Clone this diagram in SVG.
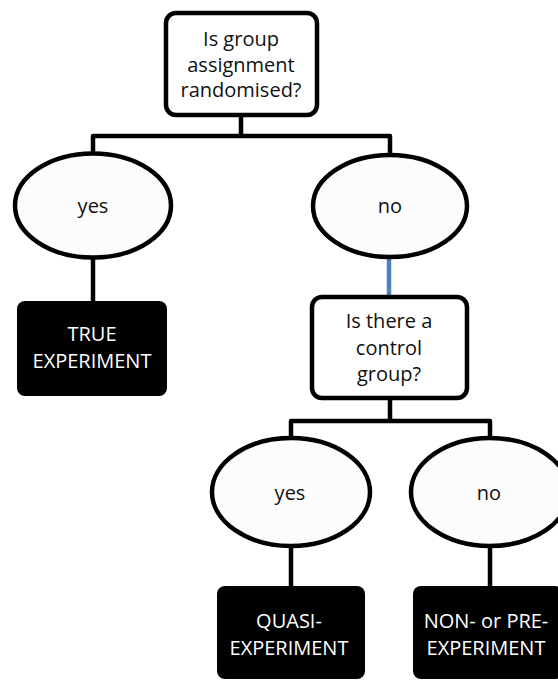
<svg xmlns="http://www.w3.org/2000/svg" width="558" height="680" viewBox="0 0 558 680">
<style>
.q{fill:#ffffff;stroke:#000;stroke-width:4.5}
.e{fill:#fcfcfc;stroke:#000;stroke-width:4.5}
.r{fill:#000;stroke:none}
.c{fill:none;stroke:#000;stroke-width:4.5;stroke-linejoin:round}
.b{fill:none;stroke:#4f81bd;stroke-width:4.5}
.t{font-family:"Open Sans","Liberation Sans",sans-serif;font-size:20px;text-anchor:middle;fill:#111}
.w{font-family:"Open Sans","Liberation Sans",sans-serif;font-size:20px;text-anchor:middle;fill:#fff}
</style>
<rect width="558" height="680" fill="#fff"/>
<g id="connectors">
<path class="c" d="M241 115 V136 M93 153 V136 H390 V155"/>
<path class="c" d="M93 258 V301"/>
<path class="b" d="M389 257 V297"/>
<path class="c" d="M390 398 V421 M291 438 V421 H490 V438"/>
<path class="c" d="M291 546 V586 M490 546 V586"/>
</g>
<g id="q1">
<rect class="q" x="166" y="13" width="151" height="102" rx="10"/>
<text class="t" x="241" y="46">Is group</text>
<text class="t" x="241" y="72">assignment</text>
<text class="t" x="241" y="97">randomised?</text>
</g>
<g id="yes1">
<ellipse class="e" cx="93" cy="205.5" rx="78" ry="52"/>
<text class="t" x="93" y="213">yes</text>
</g>
<g id="no1">
<ellipse class="e" cx="390" cy="206" rx="77" ry="51"/>
<text class="t" x="390" y="213">no</text>
</g>
<g id="true">
<rect class="r" x="17" y="301" width="150" height="95" rx="8"/>
<text class="w" x="92" y="341">TRUE</text>
<text class="w" x="92" y="368">EXPERIMENT</text>
</g>
<g id="q2">
<rect class="q" x="312" y="297" width="155" height="101" rx="10"/>
<text class="t" x="389" y="328">Is there a</text>
<text class="t" x="389" y="355">control</text>
<text class="t" x="389" y="381">group?</text>
</g>
<g id="yes2">
<ellipse class="e" cx="291" cy="492" rx="79" ry="54"/>
<text class="t" x="290" y="500">yes</text>
</g>
<g id="no2">
<ellipse class="e" cx="490" cy="492" rx="79" ry="54"/>
<text class="t" x="489" y="500">no</text>
</g>
<g id="quasi">
<rect class="r" x="217" y="586" width="148" height="93" rx="8"/>
<text class="w" x="289" y="628">QUASI-</text>
<text class="w" x="289" y="655">EXPERIMENT</text>
</g>
<g id="non">
<rect class="r" x="413" y="586" width="150" height="93" rx="8"/>
<text class="w" x="486" y="628">NON- or PRE-</text>
<text class="w" x="486" y="655">EXPERIMENT</text>
</g>
</svg>
